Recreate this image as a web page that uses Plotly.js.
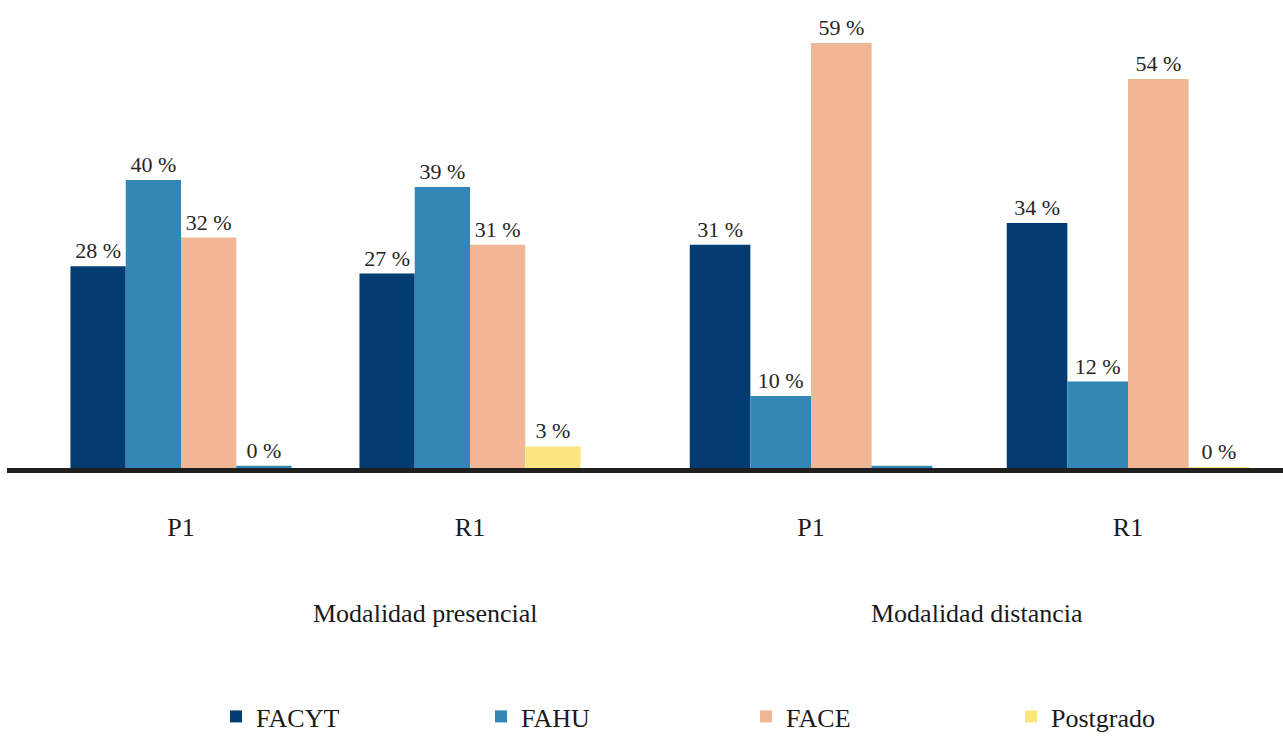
<!DOCTYPE html>
<html><head><meta charset="utf-8">
<script src="https://cdn.plot.ly/plotly-3.0.1.min.js"></script>
<style>html,body{margin:0;padding:0;background:#fff}#chart{width:1283px;height:736px}</style>
</head><body><div id="chart"></div>
<script>
// ---- data ----
const modalities = ["Modalidad presencial", "Modalidad distancia"];
const periods = ["P1", "R1"];
const seriesNames = ["FACYT", "FAHU", "FACE", "Postgrado"];
const facyt = [28, 27, 31, 34];       // P1 pres, R1 pres, P1 dist, R1 dist
const fahu = [40, 39, 10, 12];
const face = [32, 31, 59, 54];
const postgrado = [0.3, 3, 0.3, 0.15];

// ---- styles ----
const FONT = "Liberation Serif, Times New Roman, serif";
const colors = {FACYT: "#023c72", FAHU: "#3387b7", FACE: "#f0b696", Postgrado: "#fae57e"};
// first point of each modality drawn in the FAHU tone as in the source chart
const postgradoPointColors = [colors.FAHU, colors.Postgrado];
const LABEL = "%{y:.0f} %";

const W = 1283, plotTop = 20, plotBottom = 468, plotH = plotBottom - plotTop;
const series = [facyt, fahu, face, postgrado];

const traces = [];
modalities.forEach((m, mi) => {
  const xa = mi === 0 ? "x" : "x2";
  series.forEach((vals, si) => {
    const name = seriesNames[si];
    let xs = periods.slice();
    let ys = vals.slice(mi * 2, mi * 2 + 2);
    let mc = colors[name];
    let tt = LABEL;
    if (name === "Postgrado") {
      // list the yellow point first so the legend swatch takes its colour
      xs = [periods[1], periods[0]];
      ys = [ys[1], ys[0]];
      mc = [postgradoPointColors[1], postgradoPointColors[0]];
      // source shows no label on the distance-mode P1 sliver
      tt = mi === 0 ? [LABEL, LABEL] : [LABEL, " "];
    }
    traces.push({
      type: "bar", name: name, legendgroup: name, showlegend: mi === 0,
      x: xs, y: ys, xaxis: xa, yaxis: "y",
      marker: {color: mc, line: {width: 0}},
      texttemplate: tt, textposition: "outside",
      textfont: {family: FONT, size: 22, color: "#262626"},
      cliponaxis: false, hoverinfo: "skip"
    });
  });
});

const px = v => v / W;
const py = v => (plotBottom - v) / plotH;

const xCommon = {
  type: "category", categoryorder: "array", categoryarray: periods,
  showgrid: false, zeroline: false, showline: false, ticks: "",
  tickfont: {family: FONT, size: 26, color: "#1a1a1a"},
  ticklabelstandoff: 41, fixedrange: true
};

const layout = {
  width: 1283, height: 736,
  margin: {l: 0, r: 0, t: plotTop, b: 736 - plotBottom, pad: 0, autoexpand: false},
  paper_bgcolor: "#fff", plot_bgcolor: "#fff",
  barmode: "group", bargap: 0.235, bargroupgap: 0,
  xaxis: Object.assign({}, xCommon, {domain: [px(36.5), px(614.5)], anchor: "y"}),
  xaxis2: Object.assign({}, xCommon, {domain: [px(652.5), 1], range: [-0.5, 1.489], anchor: "y"}),
  yaxis: {range: [0, 62.2], showgrid: false, zeroline: false, showline: false,
          showticklabels: false, ticks: "", fixedrange: true},
  showlegend: true,
  legend: {orientation: "h", x: px(216), y: py(693), xanchor: "left", yanchor: "top",
           font: {family: FONT, size: 26, color: "#1a1a1a"},
           entrywidth: 220, entrywidthmode: "pixels", itemwidth: 30,
           traceorder: "normal", bgcolor: "rgba(0,0,0,0)", borderwidth: 0},
  shapes: [{type: "line", xref: "paper", yref: "paper",
            x0: px(7), x1: 1, y0: py(470.5), y1: py(470.5),
            line: {color: "#1f1f1f", width: 5}, layer: "above"}],
  annotations: [
    {text: modalities[0], xref: "paper", yref: "paper", x: px(425), y: py(613),
     xanchor: "center", yanchor: "middle", showarrow: false,
     font: {family: FONT, size: 26, color: "#1a1a1a"}},
    {text: modalities[1], xref: "paper", yref: "paper", x: px(977), y: py(613),
     xanchor: "center", yanchor: "middle", showarrow: false,
     font: {family: FONT, size: 26, color: "#1a1a1a"}}
  ]
};

Plotly.newPlot("chart", traces, layout, {displayModeBar: false, staticPlot: true});
</script>
</body></html>
